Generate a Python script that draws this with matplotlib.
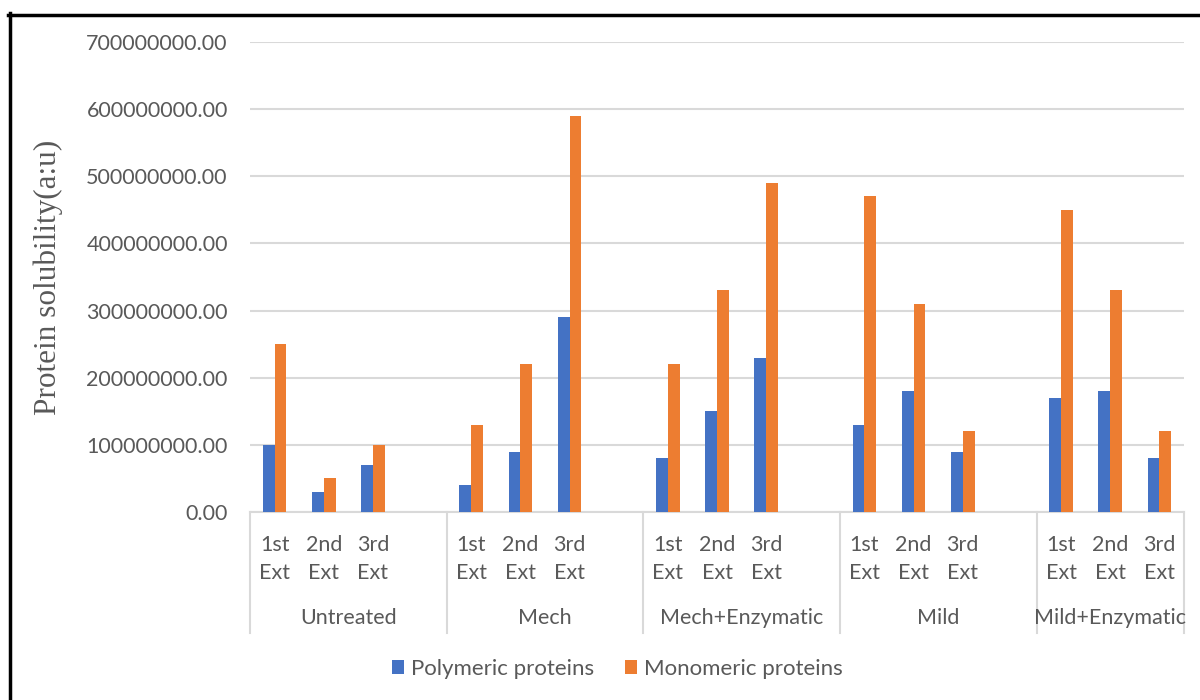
import matplotlib.pyplot as plt
import matplotlib.transforms as mtransforms
from matplotlib.lines import Line2D
from matplotlib.ticker import FuncFormatter

treatments = ["Untreated", "Mech", "Mech+Enzymatic", "Mild", "Mild+Enzymatic"]
extractions = ["1st\nExt", "2nd\nExt", "3rd\nExt"]
polymeric = [100e6, 30e6, 70e6,
             40e6, 90e6, 290e6,
             80e6, 150e6, 230e6,
             130e6, 180e6, 90e6,
             170e6, 180e6, 80e6]
monomeric = [250e6, 50e6, 100e6,
             130e6, 220e6, 590e6,
             220e6, 330e6, 490e6,
             470e6, 310e6, 120e6,
             450e6, 330e6, 120e6]

blue = '#4472C4'
orange = '#ED7D31'
grey_txt = '#595959'
grid_col = '#D9D9D9'

plt.rcParams['font.family'] = ['Lato', 'DejaVu Sans']

fig = plt.figure(figsize=(12, 7), dpi=100)
ax = fig.add_axes([250 / 1200, 188 / 700, 934 / 1200, 470 / 700])

# each treatment takes 4 slots (3 extractions + an empty one), last has no gap
pos = []
for g in range(len(treatments)):
    for j in range(len(extractions)):
        pos.append(4 * g + j)

w = 0.24
ax.bar([p - w / 2 for p in pos], polymeric, width=w, color=blue, label='Polymeric proteins', zorder=3)
ax.bar([p + w / 2 for p in pos], monomeric, width=w, color=orange, label='Monomeric proteins', zorder=3)

ax.set_xlim(-0.5, 18.5)
ax.set_ylim(0, 700e6)
ax.set_yticks([i * 100e6 for i in range(8)])
ax.yaxis.set_major_formatter(FuncFormatter(lambda v, _: '%.2f' % v))
ax.tick_params(axis='y', length=0, labelsize=15.5, labelcolor=grey_txt, pad=16)
ax.set_xticks([])
ax.grid(axis='y', color=grid_col, linewidth=1.5, zorder=0)
for s in ['top', 'right', 'left']:
    ax.spines[s].set_visible(False)
ax.spines['bottom'].set_color(grid_col)
ax.spines['bottom'].set_linewidth(1.5)

ax.set_ylabel('Protein solubility(a:u)', family='Liberation Serif', fontsize=22.5,
              color=grey_txt, labelpad=17)

# two-level category axis
trans = mtransforms.blended_transform_factory(ax.transData, ax.transAxes)
for p, lab in zip(pos, extractions * len(treatments)):
    ax.text(p, -0.099, lab, transform=trans, ha='center', va='center',
            fontsize=15.5, color=grey_txt, linespacing=1.5)
edges = [-0.5, 3.5, 7.5, 11.5, 15.5, 18.5]
for g, name in enumerate(treatments):
    ax.text((edges[g] + edges[g + 1]) / 2, -0.226, name, transform=trans, ha='center', va='center',
            fontsize=15.5, color=grey_txt)
for x in edges:
    ax.plot([x, x], [0, -0.257], transform=trans, color=grid_col, lw=1.5, clip_on=False)

ax.legend(loc='center', bbox_to_anchor=(617 / 1200, 1 - 669 / 700), bbox_transform=fig.transFigure,
          ncol=2, frameon=False, fontsize=16, labelcolor=grey_txt,
          handlelength=0.55, handleheight=0.55, handletextpad=0.3, columnspacing=1.4)

# outer frame (left and top edges)
fig.add_artist(Line2D([9.5 / 1200, 9.5 / 1200], [0, 1 - 13 / 700], transform=fig.transFigure,
                      color='black', lw=2.5))
fig.add_artist(Line2D([8 / 1200, 1], [1 - 14.5 / 700, 1 - 14.5 / 700], transform=fig.transFigure,
                      color='black', lw=2.5))

fig.savefig('out.png', dpi=100)
